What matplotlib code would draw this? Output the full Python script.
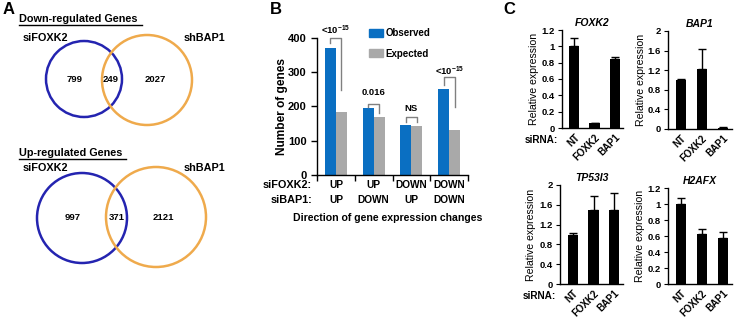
import matplotlib
matplotlib.use("Agg")
import matplotlib.pyplot as plt
from matplotlib.patches import Circle, Patch
import numpy as np

plt.rcParams['font.family'] = ['Liberation Sans', 'DejaVu Sans']
plt.rcParams['font.weight'] = 'bold'
plt.rcParams['axes.labelweight'] = 'bold'
plt.rcParams['axes.titleweight'] = 'bold'
plt.rcParams['mathtext.fontset'] = 'custom'
plt.rcParams['mathtext.rm'] = 'Liberation Sans:bold'
plt.rcParams['mathtext.bf'] = 'Liberation Sans:bold'
plt.rcParams['axes.linewidth'] = 1.0

# ---- data ----
# Panel A: Venn counts (only siFOXK2, overlap, only shBAP1)
venn_titles = ['Down-regulated Genes', 'Up-regulated Genes']
venn_down = [799, 249, 2027]
venn_up = [997, 371, 2121]
set_names = ['siFOXK2', 'shBAP1']

# Panel B
dir_foxk2 = ['UP', 'UP', 'DOWN', 'DOWN']
dir_bap1 = ['UP', 'DOWN', 'UP', 'DOWN']
observed = [372, 195, 146, 250]
expected = [185, 170, 142, 130]
pvals = [r'<10$^{-15}$', '0.016', 'NS', r'<10$^{-15}$']

# Panel C
sirna = ['NT', 'FOXK2', 'BAP1']
genes = ['FOXK2', 'BAP1', 'TP53I3', 'H2AFX']
expr = {
    'FOXK2': [1.00, 0.06, 0.84],
    'BAP1': [1.00, 1.22, 0.03],
    'TP53I3': [1.00, 1.49, 1.50],
    'H2AFX': [1.00, 0.62, 0.58],
}
expr_err = {
    'FOXK2': [0.10, 0.005, 0.03],
    'BAP1': [0.02, 0.41, 0.01],
    'TP53I3': [0.03, 0.28, 0.34],
    'H2AFX': [0.07, 0.07, 0.07],
}
ylims = {'FOXK2': 1.2, 'BAP1': 2.0, 'TP53I3': 2.0, 'H2AFX': 1.2}
yticks = {
    'FOXK2': [0, 0.2, 0.4, 0.6, 0.8, 1, 1.2],
    'BAP1': [0, 0.4, 0.8, 1.2, 1.6, 2],
    'TP53I3': [0, 0.4, 0.8, 1.2, 1.6, 2],
    'H2AFX': [0, 0.2, 0.4, 0.6, 0.8, 1, 1.2],
}

W, H = 750, 321
fig = plt.figure(figsize=(W / 100, H / 100), dpi=100)


def px_axes(left, top, right, bottom):
    return fig.add_axes([left / W, 1 - bottom / H, (right - left) / W, (bottom - top) / H])


# ---- Panel A ----
axA = px_axes(0, 0, 250, 321)
axA.set_xlim(0, 250)
axA.set_ylim(321, 0)
axA.axis('off')
fig.text(3 / W, 1 - 10 / H, 'A', fontsize=12, va='center', ha='left')

blue_c = '#2424B0'
orange_c = '#EFAA4C'
venn_layout = [
    # title y, label y, (blue cx, cy, r), (orange cx, cy, r), text y, number x
    (19, 38, (84, 79, 38), (147, 80, 45), 80, (75, 111, 155)),
    (153, 168, (82, 218, 45), (156, 217, 50), 218, (73, 117, 163)),
]
titles_txt = []
for title, counts, lay in zip(venn_titles, [venn_down, venn_up], venn_layout):
    ty, ly, bc, oc, ny, nx = lay
    t = axA.text(19, ty, title, fontsize=7.8, ha='left', va='center')
    titles_txt.append(t)
    axA.add_patch(Circle(bc[:2], bc[2], fill=False, ec=blue_c, lw=1.8))
    axA.add_patch(Circle(oc[:2], oc[2], fill=False, ec=orange_c, lw=1.8))
    axA.text(45, ly, set_names[0], fontsize=7.8, ha='center', va='center')
    axA.text(204, ly, set_names[1], fontsize=7.8, ha='center', va='center')
    for x, c in zip(nx, counts):
        axA.text(x, ny, str(c), fontsize=6.8, ha='center', va='center')

fig.canvas.draw()
r = fig.canvas.get_renderer()
for t in titles_txt:
    bb = t.get_window_extent(r).transformed(axA.transData.inverted())
    y = max(bb.y0, bb.y1) + 1
    axA.plot([bb.x0, bb.x1 + 4], [y, y], color='black', lw=1.0)

# ---- Panel B ----
fig.text(270 / W, 1 - 10 / H, 'B', fontsize=12, va='center', ha='left')
axB = px_axes(317, 38, 468, 175)
x = np.arange(len(observed))
bw = 0.29
axB.bar(x - bw / 2, observed, bw, color='#0A6FC2')
axB.bar(x + bw / 2, expected, bw, color='#A9A9A9')
axB.set_xlim(-0.5, len(observed) - 0.5)
axB.set_ylim(0, 400)
axB.set_yticks([0, 100, 200, 300, 400])
axB.set_xticks(np.arange(len(observed) + 1) - 0.5)
axB.set_xticklabels([])
axB.tick_params(direction='out', length=4, width=1, labelsize=8)
axB.spines['top'].set_visible(False)
axB.spines['right'].set_visible(False)
axB.set_ylabel('Number of genes', fontsize=8.6)
axB.yaxis.set_label_coords(-(317 - 288) / 151, 0.5)

# bracket geometry: top, left-leg end, right-leg end, text y
brackets = [(400, 385, 248, 422), (207, 198, 181, 242), (170, 155, 155, 195), (285, 262, 199, 302)]
for i, (top, lend, rend, ty) in enumerate(brackets):
    xl, xr = i - bw / 2, i + bw / 2
    axB.plot([xl, xl, xr, xr], [lend, top, top, rend], color='#808080', lw=1.0, clip_on=False)
    axB.text(i, ty, pvals[i], fontsize=6.8, ha='center', va='center', clip_on=False)

for i in range(len(observed)):
    axB.annotate(dir_foxk2[i], xy=(i, 0), xycoords=('data', 'axes fraction'), xytext=(0, -10),
                 textcoords='offset pixels', ha='center', va='center', fontsize=7.3)
    axB.annotate(dir_bap1[i], xy=(i, 0), xycoords=('data', 'axes fraction'), xytext=(0, -25),
                 textcoords='offset pixels', ha='center', va='center', fontsize=7.3)
axB.annotate('siFOXK2:', xy=(0, 0), xycoords='axes fraction', xytext=(-5, -10),
             textcoords='offset pixels', ha='right', va='center', fontsize=7.8)
axB.annotate('siBAP1:', xy=(0, 0), xycoords='axes fraction', xytext=(-5, -25),
             textcoords='offset pixels', ha='right', va='center', fontsize=7.8)
axB.annotate('Direction of gene expression changes', xy=(0.47, 0), xycoords='axes fraction',
             xytext=(0, -43), textcoords='offset pixels', ha='center', va='center', fontsize=7.6)

handles = [Patch(color='#0A6FC2', label='Observed'), Patch(color='#A9A9A9', label='Expected')]
fig.legend(handles=handles, loc='upper left', bbox_to_anchor=(369 / W, 1 - 28 / H),
           frameon=False, fontsize=7, handlelength=1.4, handleheight=0.9,
           handletextpad=0.3, labelspacing=1.1, borderpad=0, borderaxespad=0)

# ---- Panel C ----
fig.text(503 / W, 1 - 10 / H, 'C', fontsize=12, va='center', ha='left')
c_boxes = {
    'FOXK2': (562, 30, 623, 128),
    'BAP1': (668, 31, 732, 129),
    'TP53I3': (560, 185, 623, 284),
    'H2AFX': (668, 188, 732, 284),
}
c_ylab_x = {'FOXK2': 534, 'BAP1': 641, 'TP53I3': 531, 'H2AFX': 640}
for g in genes:
    l, t, rr, b = c_boxes[g]
    ax = px_axes(l, t, rr, b)
    xi = np.arange(len(sirna))
    err = expr_err[g]
    ax.bar(xi, expr[g], 0.5, color='black',
           yerr=[np.zeros(len(err)), err], capsize=3,
           error_kw=dict(elinewidth=1, capthick=1, ecolor='black'))
    ax.set_xlim(-0.62, 2.42)
    ax.set_ylim(0, ylims[g])
    ax.set_yticks(yticks[g])
    ax.set_yticklabels([('%g' % v) for v in yticks[g]])
    ax.set_xticks(xi)
    ax.set_xticklabels(sirna, rotation=45, ha='right', rotation_mode='anchor')
    ax.tick_params(axis='x', length=0, pad=3, labelsize=7)
    ax.tick_params(axis='y', direction='out', length=3, pad=2, labelsize=6.8)
    ax.spines['top'].set_visible(False)
    ax.spines['right'].set_visible(False)
    ax.set_title(g, fontsize=7.5, fontstyle='italic', pad=3)
    ax.set_ylabel('Relative expression', fontsize=7.6, fontweight='normal')
    ax.yaxis.set_label_coords(-(l - c_ylab_x[g] - 5) / (rr - l), 0.5)
    if g in ('FOXK2', 'TP53I3'):
        ax.annotate('siRNA:', xy=(0, 0), xycoords='axes fraction', xytext=(-4, -12),
                    textcoords='offset pixels', ha='right', va='center', fontsize=7.2)

fig.savefig('out.png', dpi=100)
